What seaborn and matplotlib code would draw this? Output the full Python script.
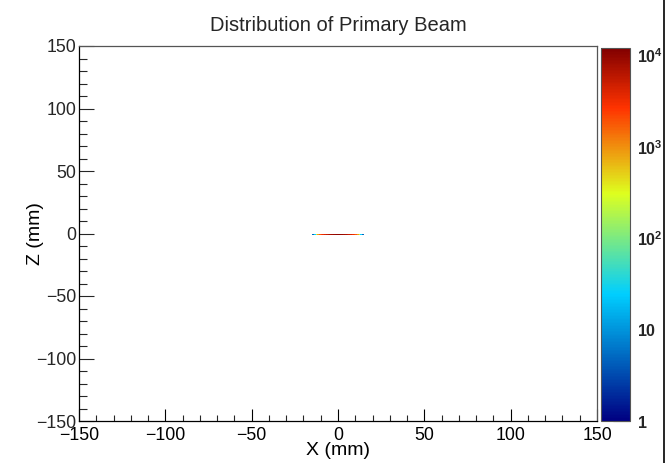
import numpy as np
import pandas as pd
import matplotlib
matplotlib.use("Agg")
import matplotlib.pyplot as plt
from matplotlib.colors import LogNorm, LinearSegmentedColormap
from matplotlib.ticker import LogLocator, MultipleLocator, FixedLocator, FixedFormatter
from matplotlib.lines import Line2D
import seaborn as sns

# ---- data ----
x_centers = [-14.5, -13.5, -12.5, -11.5, -10.5, -9.5, -8.5, -7.5, -6.5, -5.5,
             -4.5, -3.5, -2.5, -1.5, -0.5, 0.5, 1.5, 2.5, 3.5, 4.5,
             5.5, 6.5, 7.5, 8.5, 9.5, 10.5, 11.5, 12.5, 13.5, 14.5]
z_center = -0.5
counts = [5, 25, 200, 900, 1800, 2600, 3300, 4200, 5200, 6300,
          7400, 8300, 9000, 9600, 10000, 10000, 9600, 9000, 8300, 7400,
          6300, 5200, 4200, 3300, 2600, 1800, 900, 200, 25, 5]
cbar_ticks = [1, 10, 100, 1000, 10000]
cbar_labels = [r"$\mathbf{1}$", r"$\mathbf{10}$", r"$\mathbf{10^{2}}$",
               r"$\mathbf{10^{3}}$", r"$\mathbf{10^{4}}$"]

# ROOT-style rainbow palette
pal_stops = [0.00, 0.34, 0.61, 0.84, 1.00]
pal_red = [0.00, 0.00, 0.87, 1.00, 0.51]
pal_green = [0.00, 0.81, 1.00, 0.20, 0.00]
pal_blue = [0.51, 1.00, 0.12, 0.00, 0.00]

df = pd.DataFrame({"x": x_centers, "z": [z_center] * len(x_centers), "w": counts})

rainbow = LinearSegmentedColormap.from_list(
    "rootrainbow", list(zip(pal_stops, zip(pal_red, pal_green, pal_blue))), N=256)
if "rootrainbow" not in matplotlib.colormaps:
    matplotlib.colormaps.register(rainbow, name="rootrainbow")

sns.set_theme(style="white")
plt.rcParams["font.family"] = ["Liberation Sans", "DejaVu Sans"]
plt.rcParams["mathtext.fontset"] = "custom"
plt.rcParams["mathtext.rm"] = "Liberation Sans"
plt.rcParams["mathtext.bf"] = "Liberation Sans:bold"

W, H = 667, 463
fig = plt.figure(figsize=(W / 100, H / 100), dpi=100)
ax = fig.add_axes([79 / W, 1 - 421 / H, (597 - 79) / W, (421 - 46) / H])
cax = fig.add_axes([601 / W, 1 - 421 / H, (630 - 601) / W, (421 - 48) / H])

sns.histplot(data=df, x="x", y="z", weights="w", binwidth=1,
             binrange=((-150, 150), (-150, 150)), cmap="rootrainbow",
             cbar=False, ax=ax)
mesh = ax.collections[0]
mesh.set_norm(LogNorm(vmin=1, vmax=1.2e4))
cbar = fig.colorbar(mesh, cax=cax)

ax.set_xlim(-150, 150)
ax.set_ylim(-150, 150)
ax.set_xlabel("X (mm)", fontsize=14)
ax.set_ylabel("Z (mm)", fontsize=14)
ax.xaxis.set_label_coords(0.5, -0.057)
ax.yaxis.set_label_coords(-0.068, 0.5)
ax.set_title("Distribution of Primary Beam", fontsize=14.5, pad=11)
ax.xaxis.set_major_locator(MultipleLocator(50))
ax.xaxis.set_minor_locator(MultipleLocator(10))
ax.yaxis.set_major_locator(MultipleLocator(50))
ax.yaxis.set_minor_locator(MultipleLocator(10))
ax.tick_params(axis="x", which="major", direction="in", length=9, width=0.8,
               labelsize=12.8, pad=4, colors="black")
ax.tick_params(axis="x", which="minor", direction="in", length=4.5, width=0.8)
ax.tick_params(axis="y", which="major", direction="in", length=11, width=0.8,
               labelsize=12.8, pad=2)
ax.tick_params(axis="y", which="minor", direction="in", length=5.5, width=0.8)
ax.tick_params(bottom=True, left=True, top=False, right=False, which="both")
for s in ax.spines.values():
    s.set_visible(True)
    s.set_color("#555555")
    s.set_linewidth(0.9)
ax.spines["left"].set_color("black")
ax.spines["bottom"].set_color("black")
ax.xaxis.label.set_color("black")
ax.yaxis.label.set_color("black")

cax.yaxis.set_ticks_position("right")
cax.yaxis.set_major_locator(FixedLocator(cbar_ticks))
cax.yaxis.set_major_formatter(FixedFormatter(cbar_labels))
cax.yaxis.set_minor_locator(LogLocator(base=10, subs=np.arange(2, 10)))
cax.tick_params(axis="y", which="major", direction="in", length=12, width=0.8,
                labelsize=11.5, pad=5, right=True, left=False)
cax.tick_params(axis="y", which="minor", direction="in", length=6, width=0.8,
                right=True, left=False)
cax.yaxis.set_minor_formatter(plt.NullFormatter())
cbar.outline.set_edgecolor("#555555")
cbar.outline.set_linewidth(0.8)

fig.add_artist(Line2D([664 / W, 664 / W], [0, 1], transform=fig.transFigure,
                      color="black", linewidth=1.2))

fig.savefig("out.png", dpi=100)
